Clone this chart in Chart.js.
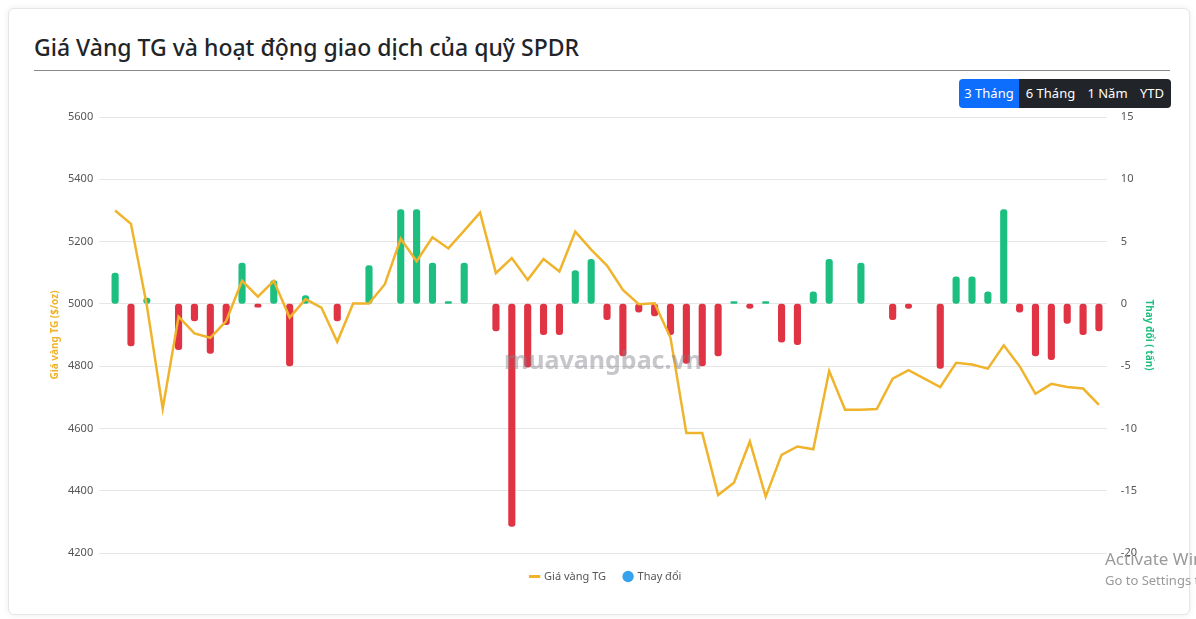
<!DOCTYPE html>
<html lang="vi">
<head>
<meta charset="utf-8">
<script src="https://cdn.jsdelivr.net/npm/chart.js@4.4.1/dist/chart.umd.min.js"></script>
<style>
  html, body { margin: 0; padding: 0; background: #ffffff; width: 1196px; height: 619px; overflow: hidden; font-family: "Noto Sans", "Open Sans", sans-serif; }
  .card { position: absolute; left: 8px; top: 8px; width: 1180px; height: 605px; border: 1px solid #e6e6e6; border-radius: 6px; box-shadow: 0 0 6px rgba(0,0,0,0.08); background: #fff; }
  .title { position: absolute; left: 34px; top: 30px; margin: 0; font-size: 23px; font-weight: 500; color: #212529; line-height: 34px; white-space: nowrap; }
  .rule { position: absolute; left: 34px; top: 70px; width: 1136px; height: 1px; background: #8a8a8a; }
  .btns { position: absolute; z-index: 2; left: 959px; top: 79px; height: 29px; display: flex; border-radius: 4px; overflow: hidden; }
  .btns span { display: block; height: 29px; line-height: 29px; color: #fff; font-size: 13px; background: #212529; text-align: center; }
  .btns span.on { background: #0d6efd; }
  .wrap { position: absolute; z-index: 1; left: 34px; top: 97px; width: 1129px; height: 495px; }
  .activate { position: absolute; z-index: 3; left: 1105px; top: 548px; color: #9a9a9a; white-space: nowrap; font-family: "Noto Sans", sans-serif; }
  .activate .a1 { font-size: 17px; line-height: 22px; }
  .activate .a2 { font-size: 13px; line-height: 20px; }
</style>
</head>
<body>
<div class="card"></div>
<h1 class="title">Giá Vàng TG và hoạt động giao dịch của quỹ SPDR</h1>
<div class="rule"></div>
<div class="wrap"><canvas id="c"></canvas></div>
<div class="btns">
  <span class="on" style="width:60px">3 Tháng</span>
  <span style="width:63px">6 Tháng</span>
  <span style="width:51px">1 Năm</span>
  <span style="width:38px">YTD</span>
</div>
<div class="activate"><div class="a1">Activate Windows</div><div class="a2">Go to Settings to activate Windows.</div></div>
<script>
const dateLabels = [
  "29/01","30/01","02/02","03/02","04/02","05/02","06/02","09/02","10/02","11/02",
  "12/02","13/02","16/02","17/02","18/02","19/02","20/02","23/02","24/02","25/02",
  "26/02","27/02","02/03","03/03","04/03","05/03","06/03","09/03","10/03","11/03",
  "12/03","13/03","16/03","17/03","18/03","19/03","20/03","23/03","24/03","25/03",
  "26/03","27/03","30/03","31/03","01/04","02/04","03/04","06/04","07/04","08/04",
  "09/04","10/04","13/04","14/04","15/04","16/04","17/04","20/04","21/04","22/04",
  "23/04","24/04","27/04"
];
const goldPrice = [
  5300,5257,4995,4663,4959,4905,4891,4945,5074,5023,
  5074,4956,5015,4988,4878,5001,5001,5063,5209,5137,
  5214,5178,5235,5293,5099,5147,5077,5144,5104,5232,
  5174,5123,5045,4999,5002,4891,4585,4585,4386,4426,
  4558,4381,4515,4542,4533,4784,4660,4660,4662,4760,
  4787,4760,4733,4811,4805,4792,4867,4800,4711,4743,
  4733,4728,4676
];
const spdrChange = [
  2.5,-3.4,0.5,0,-3.7,-1.4,-4.0,-1.7,3.3,-0.3,
  1.9,-5.0,0.7,0,-1.4,0,3.1,0,7.6,7.6,
  3.3,0.2,3.3,0,-2.2,-17.9,-5.1,-2.5,-2.5,2.7,
  3.6,-1.3,-4.2,-0.7,-1.0,-2.5,-4.8,-5.0,-4.2,0.2,
  -0.4,0.2,-3.1,-3.3,1.0,3.6,0,3.3,0,-1.3,
  -0.4,0,-5.2,2.2,2.2,1.0,7.6,-0.7,-4.2,-4.5,
  -1.6,-2.5,-2.2
];
const priceTicks = [4200,4400,4600,4800,5000,5200,5400,5600];
const changeTicks = [-20,-15,-10,-5,0,5,10,15];

const GOLD = "#f0b42c";
const GREEN = "#1cbf80";
const RED = "#e03444";
const FONT = "'Noto Sans', 'Open Sans', sans-serif";

const watermark = {
  id: "watermark",
  afterDraw(chart) {
    const ctx = chart.ctx;
    ctx.save();
    ctx.font = "bold 25px " + FONT;
    ctx.fillStyle = "rgba(130,130,140,0.45)";
    ctx.textAlign = "center";
    ctx.textBaseline = "middle";
    ctx.fillText("muavangbac.vn", 603 - 34, 362 - 97);
    ctx.restore();
  }
};

new Chart(document.getElementById("c"), {
  type: "bar",
  data: {
    labels: dateLabels,
    datasets: [
      {
        type: "line",
        label: "Giá vàng TG",
        data: goldPrice,
        yAxisID: "yPrice",
        borderColor: GOLD,
        backgroundColor: GOLD,
        borderWidth: 2.5,
        pointRadius: 0,
        pointHoverRadius: 0,
        tension: 0,
        fill: false,
        order: 0
      },
      {
        type: "bar",
        label: "Thay đổi",
        data: spdrChange,
        yAxisID: "yChange",
        backgroundColor: spdrChange.map(v => v >= 0 ? GREEN : RED),
        borderRadius: 3,
        borderSkipped: false,
        categoryPercentage: 0.9,
        barPercentage: 0.5,
        order: 1
      }
    ]
  },
  options: {
    responsive: true,
    maintainAspectRatio: false,
    animation: false,
    layout: { padding: { top: 20, left: 15, right: 0, bottom: 0 } },
    plugins: {
      legend: {
        position: "bottom",
        labels: {
          usePointStyle: true,
          boxWidth: 8,
          boxHeight: 8,
          padding: 18,
          color: "#555",
          font: { size: 11, family: FONT },
          generateLabels(chart) {
            return [
              { text: "Giá vàng TG", pointStyle: "line", strokeStyle: GOLD, fillStyle: GOLD, lineWidth: 3, datasetIndex: 0, fontColor: "#555" },
              { text: "Thay đổi", pointStyle: "circle", strokeStyle: "#36a2eb", fillStyle: "#36a2eb", lineWidth: 0, datasetIndex: 1, fontColor: "#555" }
            ];
          }
        }
      },
      tooltip: { enabled: false }
    },
    scales: {
      x: { display: false, offset: true },
      yPrice: {
        position: "left",
        min: 4200, max: 5600,
        afterBuildTicks(axis) { axis.ticks = priceTicks.map(v => ({ value: v })); },
        ticks: { color: "#555", font: { size: 11, family: FONT }, padding: 6, callback: v => String(v) },
        grid: { color: "#e6e6e6", drawTicks: true, tickLength: 8, tickColor: "#e6e6e6" },
        border: { display: false },
        title: { display: true, text: "Giá vàng TG ($/oz)", color: GOLD, font: { size: 10, weight: "bold", family: FONT }, padding: { top: 0, bottom: 1 } }
      },
      yChange: {
        position: "right",
        min: -20, max: 15,
        afterBuildTicks(axis) { axis.ticks = changeTicks.map(v => ({ value: v })); },
        ticks: { color: "#555", font: { size: 11, family: FONT }, padding: 6, callback: v => String(v) },
        grid: { display: false, drawOnChartArea: false },
        border: { display: false },
        title: { display: true, text: "Thay đổi ( tấn)", color: GREEN, font: { size: 10, weight: "bold", family: FONT }, padding: { top: 8, bottom: 0 } }
      }
    }
  },
  plugins: [watermark]
});
</script>
</body>
</html>
